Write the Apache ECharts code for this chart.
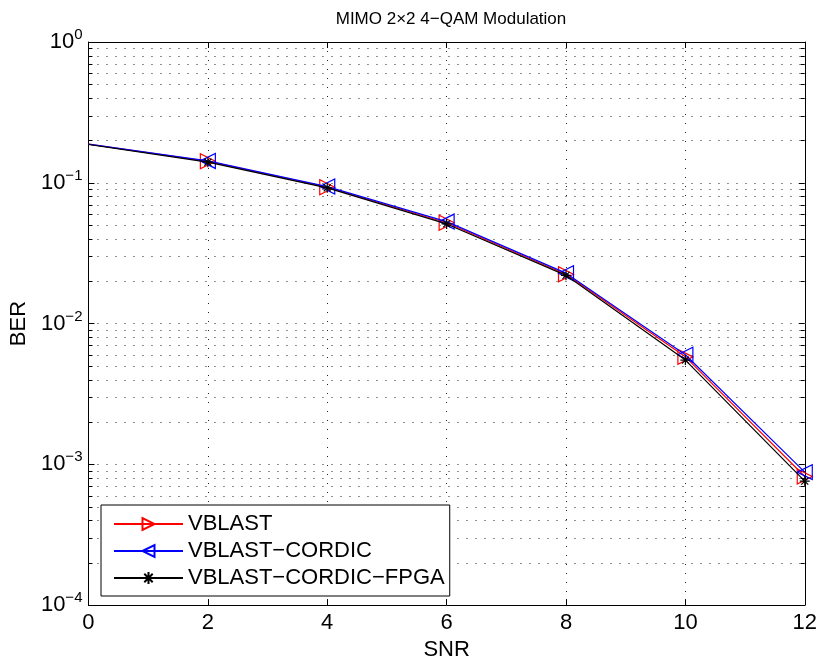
<!DOCTYPE html>
<html>
<head>
<meta charset="utf-8">
<script src="https://cdn.jsdelivr.net/npm/echarts@6/dist/echarts.min.js"></script>
<style>html,body{margin:0;padding:0;background:#fff}#c{width:820px;height:666px}</style>
</head>
<body>
<div id="c"></div>
<script>
const chartTitle = 'MIMO 2×2 4−QAM Modulation';
const xName = 'SNR';
const yName = 'BER';
const snr = [0, 2, 4, 6, 8, 10, 12];
const seriesNames = ['VBLAST', 'VBLAST−CORDIC', 'VBLAST−CORDIC−FPGA'];
const berVblast = [0.188, 0.142, 0.093, 0.052, 0.0224, 0.0058, 0.00082];
const berCordic = [0.188, 0.143, 0.094, 0.053, 0.0228, 0.0060, 0.00088];
const berFpga   = [0.187, 0.140, 0.092, 0.051, 0.0220, 0.0055, 0.00076];
const xTicks = [0, 2, 4, 6, 8, 10, 12];
const yDecades = [-4, -3, -2, -1, 0];
const minorMantissa = [2, 3, 4, 5, 6, 7, 8, 9];

const FONT = '"Liberation Sans", Arial, Helvetica, sans-serif';
const minorVals = [];
for (let i = 0; i < yDecades.length - 1; i++) {
  for (const m of minorMantissa) minorVals.push([0, m * Math.pow(10, yDecades[i])]);
}
// first point (SNR 0) is drawn without a marker, as in the reference
const pairs = arr => snr.map((x, i) => i === 0 ? {value: [x, arr[i]], symbol: 'none'} : [x, arr[i]]);
const asterisk = 'path://M10,0L10,20M0,10L20,10M3,3L17,17M3,17L17,3';

const chart = echarts.init(document.getElementById('c'), null, {renderer: 'canvas'});
const supLabel = v => {
  const e = Math.round(Math.log10(v));
  return '{b|10}{e|' + (e < 0 ? '−' + (-e) : e) + '}';
};
const GRIDC = '#222';
const DASH = [1, 8];
const dotted = {color: GRIDC, width: 1, type: DASH};

const lineSeries = (name, data, color, symbol, rot, size, z) => ({
  name, type: 'line', data: pairs(data), z,
  symbol, symbolSize: size, symbolRotate: rot,
  showAllSymbol: true,
  lineStyle: {color, width: 1.2},
  itemStyle: {color: 'rgba(0,0,0,0)', borderColor: color, borderWidth: 1.2},
  emphasis: {disabled: true},
  animation: false
});

chart.setOption({
  animation: false,
  title: {text: chartTitle, left: 446, top: 6, textAlign: 'center',
    textStyle: {fontFamily: FONT, fontSize: 17, fontWeight: 'normal', color: '#000'}},
  grid: {left: 86, right: 15, top: 42, bottom: 60, containLabel: false},
  legend: {
    data: seriesNames, orient: 'vertical', left: 101, bottom: 70,
    backgroundColor: '#fff', borderColor: '#000', borderWidth: 1,
    padding: [8, 5, 7, 12], itemGap: 5, itemWidth: 69, itemHeight: 15,
    textStyle: {fontFamily: FONT, fontSize: 22, color: '#000', padding: [0, 0, 0, 0]},
    selectedMode: false
  },
  xAxis: [{
    type: 'value', min: 0, max: 12, interval: 2, position: 'bottom',
    name: xName, nameLocation: 'middle', nameGap: 31,
    nameTextStyle: {fontFamily: FONT, fontSize: 22, color: '#000'},
    axisLine: {onZero: false, lineStyle: {color: '#000', width: 1}},
    axisTick: {inside: true, length: 6, lineStyle: {color: '#000'}},
    axisLabel: {fontFamily: FONT, fontSize: 22, color: '#000', margin: 7},
    splitLine: {show: true, lineStyle: dotted}
  }, {
    type: 'value', min: 0, max: 12, interval: 2, position: 'top',
    axisLine: {onZero: false, lineStyle: {color: '#000', width: 1}},
    axisTick: {inside: true, length: 6, lineStyle: {color: '#000'}},
    axisLabel: {show: false}, splitLine: {show: false}
  }],
  yAxis: [{
    type: 'log', logBase: 10, min: 1e-4, max: 1, position: 'left',
    name: yName, nameLocation: 'middle', nameGap: 52,
    nameTextStyle: {fontFamily: FONT, fontSize: 22, color: '#000'},
    axisLine: {onZero: false, lineStyle: {color: '#000', width: 1}},
    axisTick: {inside: true, length: 6, lineStyle: {color: '#000'}},
    axisLabel: {formatter: supLabel, margin: 6,
      rich: {b: {fontFamily: FONT, fontSize: 22, color: '#000'},
             e: {fontFamily: FONT, fontSize: 15, color: '#000', padding: [0, 0, 14, 0]}}},
    splitLine: {show: true, lineStyle: dotted}
  }, {
    type: 'log', logBase: 10, min: 1e-4, max: 1, position: 'right',
    axisLine: {onZero: false, lineStyle: {color: '#000', width: 1}},
    axisTick: {inside: true, length: 6, lineStyle: {color: '#000'}},
    axisLabel: {show: false}, splitLine: {show: false}
  }],
  series: [
    {
      name: 'minor', type: 'custom', data: minorVals, z: 1, silent: true,
      encode: {x: 0, y: 1},
      renderItem: (params, api) => {
        const v = api.value(1);
        const a = api.coord([0, v]);
        const b = api.coord([12, v]);
        const y = Math.round(a[1]) + 0.5;
        return {type: 'group', children: [
          {type: 'line', shape: {x1: a[0], y1: y, x2: b[0], y2: y},
           style: {stroke: GRIDC, lineWidth: 1, lineDash: DASH}},
          {type: 'line', shape: {x1: a[0], y1: y, x2: a[0] + 4, y2: y},
           style: {stroke: '#000', lineWidth: 1}},
          {type: 'line', shape: {x1: b[0] - 4, y1: y, x2: b[0], y2: y},
           style: {stroke: '#000', lineWidth: 1}}
        ]};
      }
    },
    lineSeries(seriesNames[0], berVblast, '#ff0000', 'triangle', -90, 15, 3),
    lineSeries(seriesNames[1], berCordic, '#0000ff', 'triangle', 90, 15, 4),
    lineSeries(seriesNames[2], berFpga, '#000000', asterisk, 0, 10, 5)
  ]
});
</script>
</body>
</html>
